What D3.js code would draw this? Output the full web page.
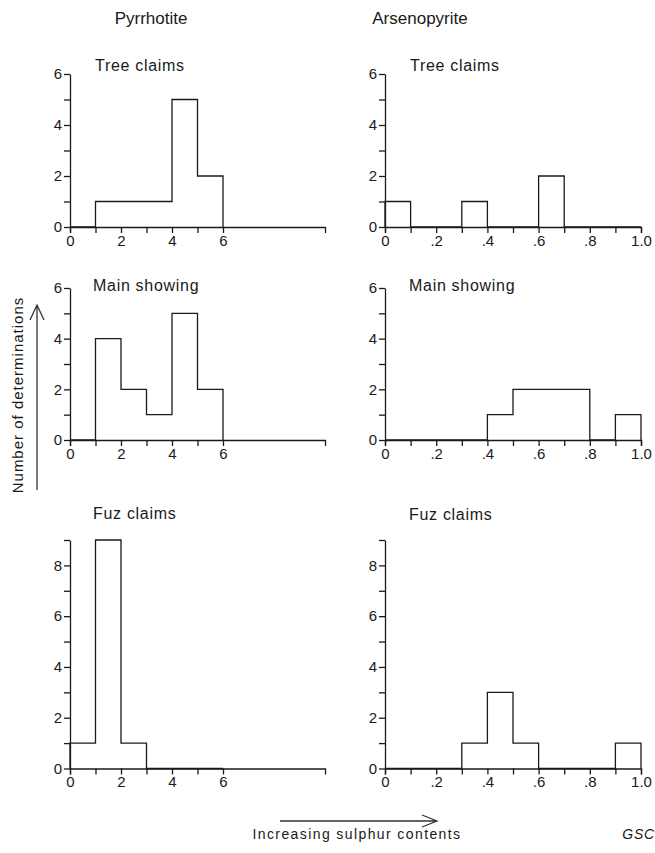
<!DOCTYPE html>
<html>
<head>
<meta charset="utf-8">
<script src="https://cdn.jsdelivr.net/npm/d3@7"></script>
<style>
  html, body { margin: 0; padding: 0; background: #fff; }
  svg { display: block; font-family: "Liberation Sans", Arial, Helvetica, sans-serif; }
  .tick text { font-size: 15px; fill: #1a1a1a; }
  .domain, .tick line { stroke: #1a1a1a; stroke-width: 1.3; }
</style>
</head>
<body>
<svg id="chart" width="655" height="853"></svg>
<script>
// Bin starts (pyrrhotite: atomic ratio units, arsenopyrite: fraction)
const pyrBins = [0, 1, 2, 3, 4, 5];
const pyrWidth = 1;
const arsBins = [0, 0.1, 0.2, 0.3, 0.4, 0.5, 0.6, 0.7, 0.8, 0.9];
const arsWidth = 0.1;

// Number of determinations per bin
const pyrTree = [0, 1, 1, 1, 5, 2];
const pyrMain = [0, 4, 2, 1, 5, 2];
const pyrFuz  = [1, 9, 1, 0, 0, 0];
const arsTree = [1, 0, 0, 1, 0, 0, 2, 0, 0, 0];
const arsMain = [0, 0, 0, 0, 1, 2, 2, 2, 0, 1];
const arsFuz  = [0, 0, 0, 1, 3, 1, 0, 0, 0, 1];

// Locality names and column headings
const localities = ["Tree claims", "Main showing", "Fuz claims"];
const minerals = ["Pyrrhotite", "Arsenopyrite"];

// Axis ticks
const pyrTicks = [0, 1, 2, 3, 4, 5, 6];
const arsTicks = [0, 0.1, 0.2, 0.3, 0.4, 0.5, 0.6, 0.7, 0.8, 0.9, 1.0];
const arsTickLabels = {"0": "0", "0.2": ".2", "0.4": ".4", "0.6": ".6", "0.8": ".8", "1": "1.0"};
const yMax = [6, 6, 9];

const svg = d3.select("#chart");

const xLeft = d3.scaleLinear().domain([0, 10]).range([70, 325]);
const xRight = d3.scaleLinear().domain([0, 1]).range([385, 641]);
const rowRanges = [[227, 74], [440, 288], [768.5, 540]];
const yScales = rowRanges.map((r, i) => d3.scaleLinear().domain([0, yMax[i]]).range(r));

const titleBaselines = [[70.7, 70.7], [291, 291], [518.5, 520]];
const titleX = [[95, 410], [93, 409], [93, 409]];

const panels = [
  { col: 0, row: 0, bins: pyrBins, w: pyrWidth, counts: pyrTree },
  { col: 0, row: 1, bins: pyrBins, w: pyrWidth, counts: pyrMain },
  { col: 0, row: 2, bins: pyrBins, w: pyrWidth, counts: pyrFuz },
  { col: 1, row: 0, bins: arsBins, w: arsWidth, counts: arsTree },
  { col: 1, row: 1, bins: arsBins, w: arsWidth, counts: arsMain },
  { col: 1, row: 2, bins: arsBins, w: arsWidth, counts: arsFuz }
];

const line = d3.line().x(d => d[0]).y(d => d[1]);

panels.forEach(p => {
  const x = p.col === 0 ? xLeft : xRight;
  const y = yScales[p.row];
  const g = svg.append("g");

  // x axis
  const xAxis = d3.axisBottom(x).tickSizeOuter(0).tickSize(6).tickPadding(2);
  if (p.col === 0) {
    xAxis.tickValues(pyrTicks).tickFormat(d => d % 2 === 0 ? String(d) : "");
  } else {
    xAxis.tickValues(arsTicks).tickFormat(d => arsTickLabels[String(+d.toFixed(1))] || "");
  }
  g.append("g").attr("transform", `translate(0,${y(0)})`).call(xAxis);

  // y axis
  const yTicks = d3.range(0, yMax[p.row] + 1);
  const yAxis = d3.axisLeft(y).tickValues(yTicks).tickSize(6).tickSizeOuter(0).tickPadding(2)
    .tickFormat(d => d % 2 === 0 ? String(d) : "");
  g.append("g").attr("transform", `translate(${x(0)},0)`).call(yAxis);

  // step outline of the histogram
  const pts = [[x(p.bins[0]), y(0)]];
  p.bins.forEach((b, i) => {
    pts.push([x(b), y(p.counts[i])]);
    pts.push([x(b + p.w), y(p.counts[i])]);
  });
  pts.push([x(p.bins[p.bins.length - 1] + p.w), y(0)]);
  g.append("path").attr("d", line(pts))
    .attr("fill", "none").attr("stroke", "#1a1a1a").attr("stroke-width", 1.3)
    .attr("stroke-linejoin", "miter");

  // locality title
  g.append("text")
    .attr("x", titleX[p.row][p.col]).attr("y", titleBaselines[p.row][p.col])
    .attr("font-size", 16).attr("letter-spacing", 0.7).attr("fill", "#1a1a1a")
    .text(localities[p.row]);
});

// Column headings
svg.selectAll("text.mineral").data(minerals).join("text")
  .attr("class", "mineral")
  .attr("x", (d, i) => i === 0 ? 151 : 420).attr("y", 24)
  .attr("text-anchor", "middle").attr("font-size", 17).attr("fill", "#1a1a1a")
  .text(d => d);

// Vertical axis title with arrow
svg.append("text")
  .attr("transform", "translate(23,395) rotate(-90)")
  .attr("text-anchor", "middle").attr("font-size", 15).attr("letter-spacing", 1)
  .attr("fill", "#1a1a1a")
  .text("Number of determinations");
svg.append("path")
  .attr("d", "M37,490 L37,305 M30,320 L37,305 L44,320")
  .attr("fill", "none").attr("stroke", "#333").attr("stroke-width", 1.3);

// Horizontal axis title with arrow
svg.append("path")
  .attr("d", "M280,821 L437,821 M422,815 L437,821 L422,827")
  .attr("fill", "none").attr("stroke", "#333").attr("stroke-width", 1.3);
svg.append("text")
  .attr("x", 357).attr("y", 839).attr("text-anchor", "middle")
  .attr("font-size", 14).attr("letter-spacing", 1.4).attr("fill", "#1a1a1a")
  .text("Increasing sulphur contents");
svg.append("text")
  .attr("x", 655).attr("y", 839).attr("text-anchor", "end")
  .attr("font-size", 14).attr("font-style", "italic").attr("letter-spacing", 0.8)
  .attr("fill", "#1a1a1a")
  .text("GSC");
</script>
</body>
</html>
